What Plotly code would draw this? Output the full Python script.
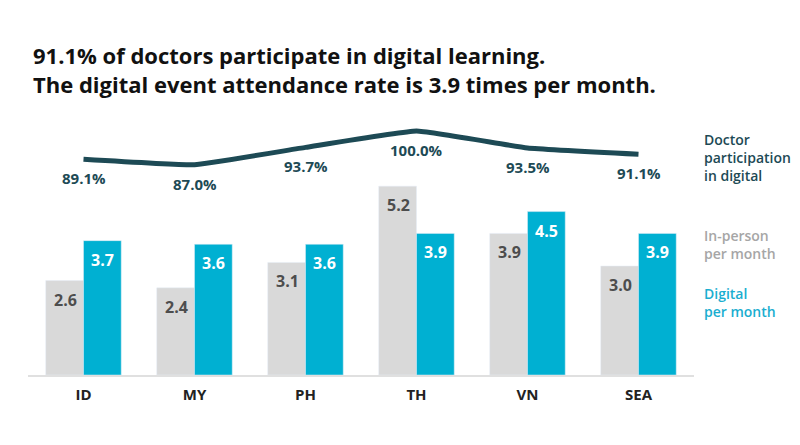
import plotly.graph_objects as go

# data
countries = ["ID", "MY", "PH", "TH", "VN", "SEA"]
in_person = [2.6, 2.4, 3.1, 5.2, 3.9, 3.0]
digital = [3.7, 3.6, 3.6, 3.9, 4.5, 3.9]
participation = [89.1, 87.0, 93.7, 100.0, 93.5, 91.1]

FONT = "Open Sans"
GRAY = "#d9d9d9"
BLUE = "#00b0d2"
TEAL = "#1d4a55"

# the page body adds an 8px offset, so layout is set 8px up/left
W, H = 800, 445
ML, MR, MT, MB = 20, 114, 107, 78

fig = go.Figure()

fig.add_trace(go.Bar(x=countries, y=in_person, name="In-person per month",
                     marker=dict(color=GRAY), offsetgroup="a"))
fig.add_trace(go.Bar(x=countries, y=digital, name="Digital per month",
                     marker=dict(color=BLUE), offsetgroup="b"))
fig.add_trace(go.Scatter(x=countries, y=participation, yaxis="y2",
                         mode="lines", name="Doctor participation in digital",
                         line=dict(color=TEAL, width=5, shape="spline", smoothing=0.3)))

annotations = []
# bar value labels, inside the top of each bar
for c, v in zip(countries, in_person):
    annotations.append(dict(x=c, y=v, xref="x", yref="y", text=f"{v:.1f}",
                            showarrow=False, xshift=-18.5, yshift=-19,
                            font=dict(family=FONT, size=16, color="#4d4d4d", weight="bold")))
for c, v in zip(countries, digital):
    annotations.append(dict(x=c, y=v, xref="x", yref="y", text=f"{v:.1f}",
                            showarrow=False, xshift=18.5, yshift=-19,
                            font=dict(family=FONT, size=16, color="white", weight="bold")))
# line labels under each point
for c, v in zip(countries, participation):
    annotations.append(dict(x=c, y=v, xref="x", yref="y2", text=f"{v:.1f}%",
                            showarrow=False, yshift=-19,
                            font=dict(family=FONT, size=15, color=TEAL, weight="bold")))

# right-hand legend texts (pixel positions in the figure)
side = [
    ("Doctor<br>participation<br>in digital", 157, TEAL),
    ("In-person<br>per month", 244, "#a6a6a6"),
    ("Digital<br>per month", 302, "#1aaed0"),
]
for txt, py, col in side:
    annotations.append(dict(x=(694 - ML) / (W - ML - MR),
                            y=1 - (py - 8 - MT) / (H - MT - MB),
                            xref="paper", yref="paper", showarrow=False,
                            text=txt, align="left", xanchor="left", yanchor="middle",
                            font=dict(family=FONT, size=14, color=col, weight=600)))

fig.update_layout(
    width=W, height=H,
    margin=dict(l=ML, r=MR, t=MT, b=MB),
    paper_bgcolor="white", plot_bgcolor="white",
    showlegend=False,
    barmode="group", bargap=0.32, bargroupgap=0,
    title=dict(text="91.1% of doctors participate in digital learning.<br>"
                    "The digital event attendance rate is 3.9 times per month.",
               x=25 / W, xanchor="left", y=1 - 56 / H, yanchor="middle",
               font=dict(family=FONT, size=22, color="#111111", weight="bold")),
    xaxis=dict(showgrid=False, showline=True, linecolor="#e0e0e0", linewidth=2,
               ticks="", ticklabelstandoff=5,
               tickfont=dict(family=FONT, size=15, color="#222222", weight="bold")),
    yaxis=dict(range=[0, 7.16], visible=False),
    yaxis2=dict(range=[6.15, 106.15], overlaying="y", visible=False),
    annotations=annotations,
)

fig.write_html("out.html")
